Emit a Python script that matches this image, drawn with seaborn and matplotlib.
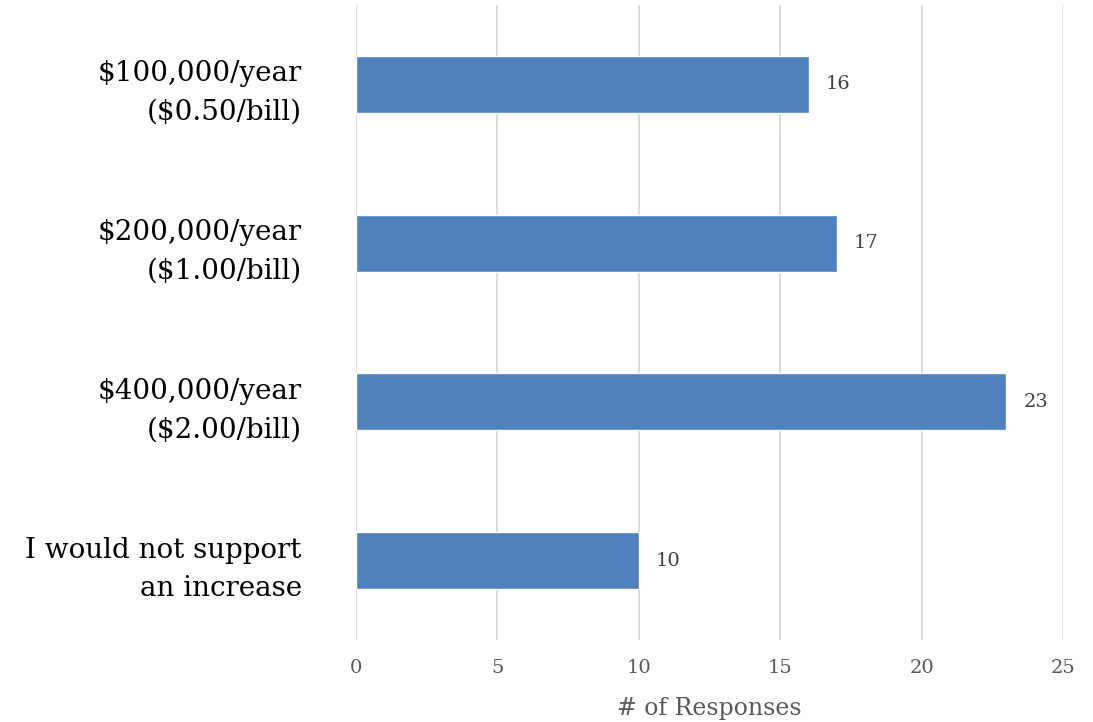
import matplotlib
matplotlib.use("Agg")
import matplotlib.pyplot as plt
import seaborn as sns
import pandas as pd

categories = ["$100,000/year\n($0.50/bill)", "$200,000/year\n($1.00/bill)",
              "$400,000/year\n($2.00/bill)", "I would not support\nan increase"]
responses = [16, 17, 23, 10]
x_ticks = [0, 5, 10, 15, 20, 25]

sns.set_theme(style="white")
plt.rcParams['font.family'] = ['DejaVu Serif']

df = pd.DataFrame({"cat": categories, "n": responses})

fig = plt.figure(figsize=(10.93, 7.22), dpi=100)
ax = fig.add_axes([0.3257, 0.1136, 0.6469, 0.8794])
sns.barplot(data=df, x="n", y="cat", orient="h", color="#4F81BD", saturation=1,
            width=0.36, ax=ax, zorder=3)
ax.set_xlim(0, 25)
ax.set_ylim(3.5, -0.5)
ax.set_xticks(x_ticks)
ax.set_xticklabels([str(t) for t in x_ticks], color="#595959", fontsize=14)
ax.tick_params(axis="x", length=0, pad=14)
ax.tick_params(axis="y", length=0, pad=39)
for lbl in ax.get_yticklabels():
    lbl.set_fontsize(20)
    lbl.set_color("black")
    lbl.set_linespacing(1.55)
ax.grid(axis="x", color="#D9D9D9", linewidth=1.3, zorder=0)
ax.grid(axis="y", visible=False)
for s in ax.spines.values():
    s.set_visible(False)
ax.set_ylabel("")
ax.set_xlabel("# of Responses", fontsize=17, color="#595959", labelpad=14)
for p, v in zip(ax.patches, responses):
    ax.text(p.get_width() + 0.6, p.get_y() + p.get_height() / 2, str(v),
            va="center", ha="left", fontsize=14, color="#404040")

fig.savefig("out.png", dpi=100)
